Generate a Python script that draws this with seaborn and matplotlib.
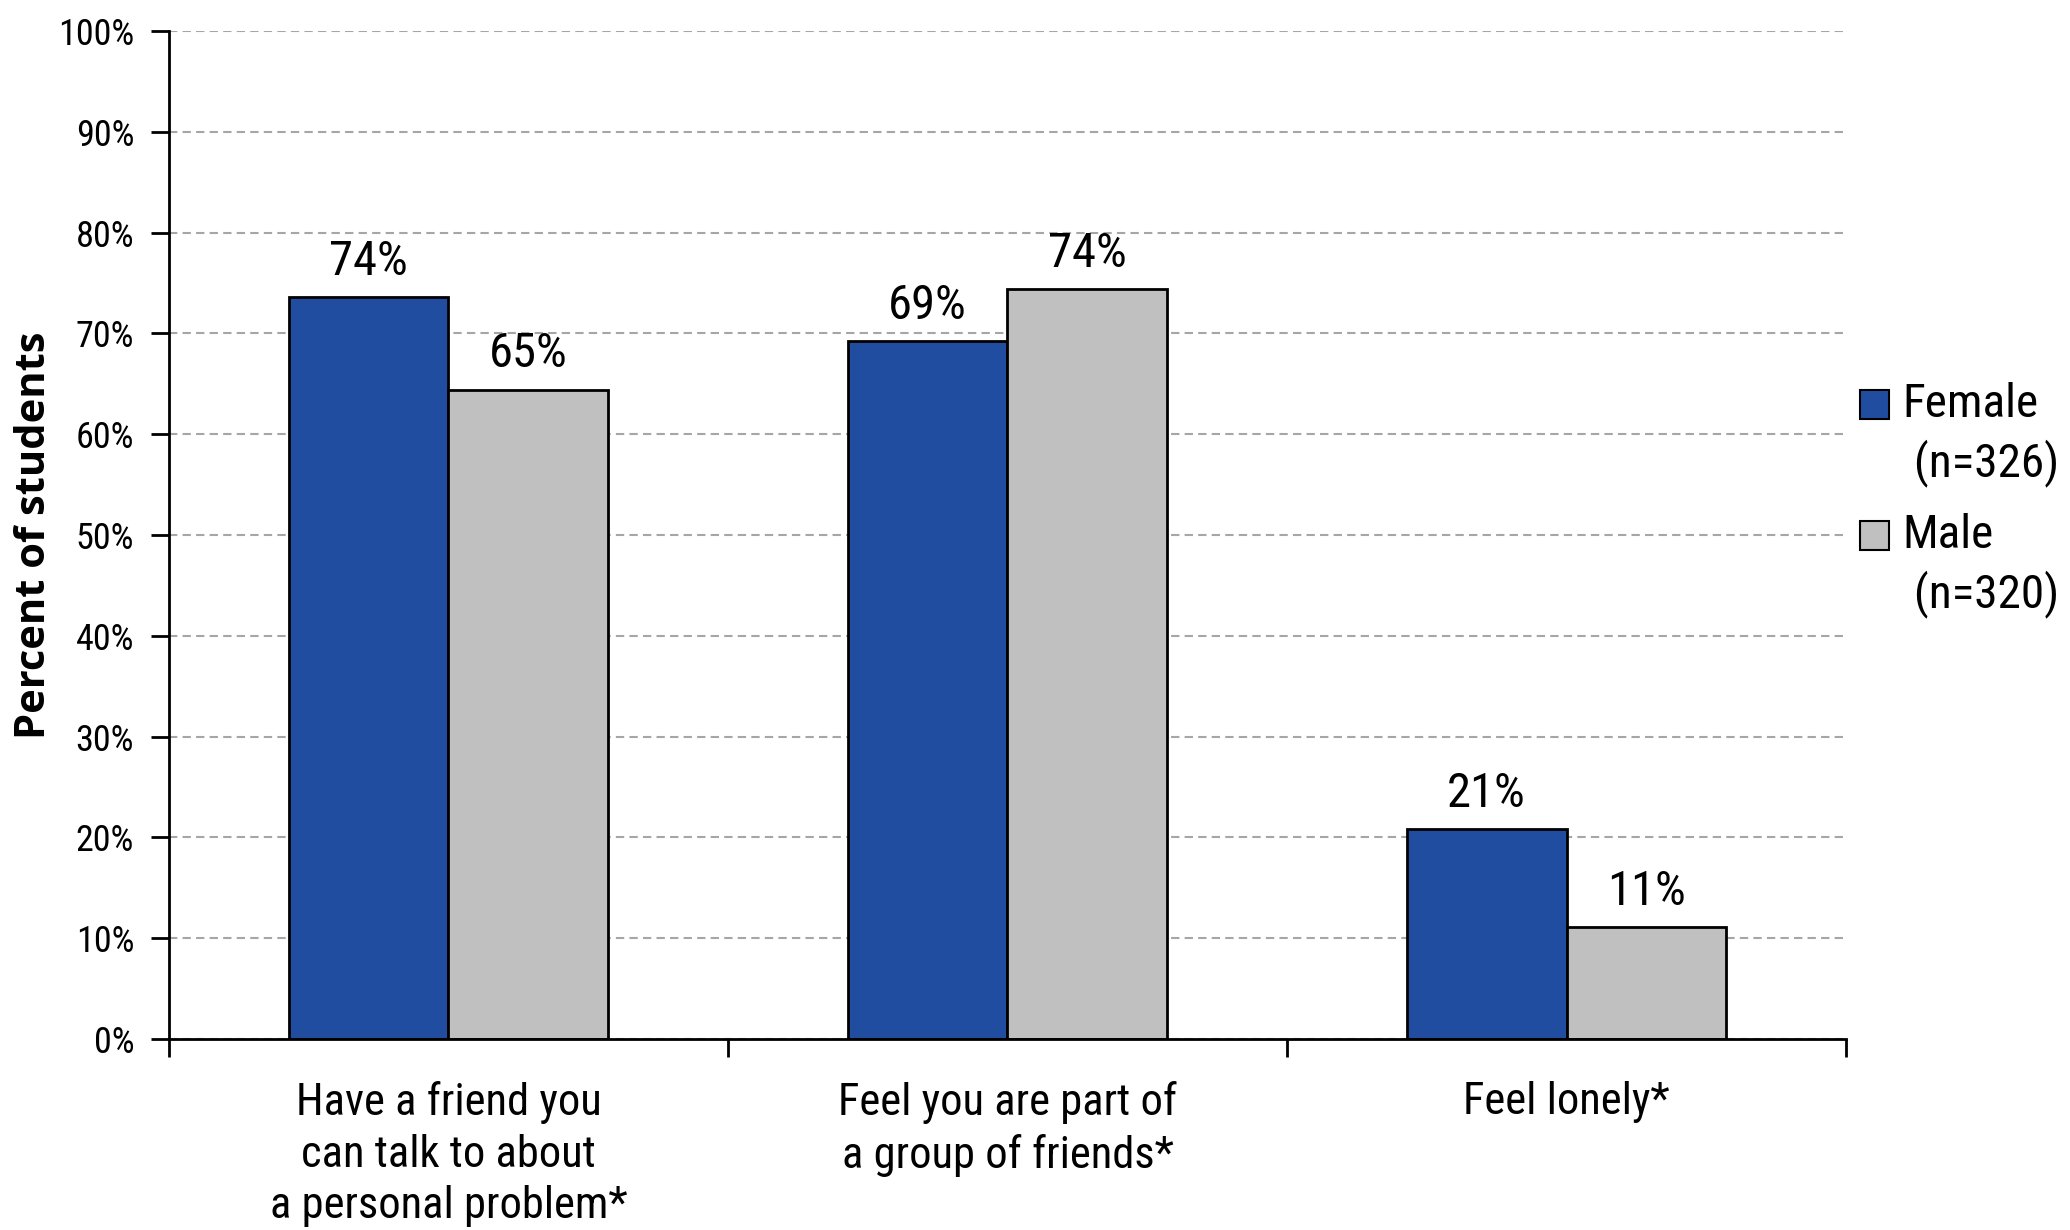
import matplotlib
matplotlib.use("Agg")
import matplotlib.pyplot as plt
import seaborn as sns
import pandas as pd
import numpy as np
from matplotlib.ticker import FixedLocator, PercentFormatter
from matplotlib.legend_handler import HandlerPatch
from matplotlib.patches import Rectangle

categories = ["Have a friend you\ncan talk to about\na personal problem*",
              "Feel you are part of\na group of friends*",
              "Feel lonely*"]
series_names = ["Female\n (n=326)", "Male\n (n=320)"]
female = [73.6, 69.2, 20.8]
male = [64.4, 74.4, 11.1]
female_labels = ["74%", "69%", "21%"]
male_labels = ["65%", "74%", "11%"]
colors = ["#214DA0", "#C0C0C0"]

df = pd.DataFrame({
    "category": categories * 2,
    "group": [series_names[0]] * 3 + [series_names[1]] * 3,
    "value": female + male,
})

sns.set_theme(style="white")
narrow = ["Roboto Condensed", "Archivo Narrow", "PT Sans Narrow", "Pragati Narrow",
          "Liberation Sans Narrow", "Roboto", "DejaVu Sans"]
plt.rcParams['font.family'] = narrow

fig = plt.figure(figsize=(20.7, 12.3), dpi=100)
ax = fig.add_axes([0.0816, 0.1553, 0.8102, 0.8195])

sns.barplot(data=df, x="category", y="value", hue="group", palette=colors,
            width=0.572, edgecolor="black", linewidth=2, saturation=1, ax=ax)

ax.set_ylim(0, 100)
ax.set_xlim(-0.5, 2.5)
ax.yaxis.set_major_locator(FixedLocator(np.arange(0, 101, 10)))
ax.yaxis.set_major_formatter(PercentFormatter(decimals=0))
ax.grid(axis="y", color="#A6A6A6", linestyle=(0, (4, 2.5)), linewidth=1.5)
ax.set_axisbelow(True)

for s in ["top", "right"]:
    ax.spines[s].set_visible(False)
for s in ["left", "bottom"]:
    ax.spines[s].set_color("black")
    ax.spines[s].set_linewidth(2)

ax.tick_params(axis="y", which="major", length=13, width=2, color="black",
               direction="out", left=True, labelsize=26, pad=12, labelcolor="black")
ax.tick_params(axis="x", which="major", length=0, labelsize=32, pad=30, labelcolor="black")
ax.xaxis.set_minor_locator(FixedLocator([-0.5, 0.5, 1.5, 2.5]))
ax.tick_params(axis="x", which="minor", length=13, width=2, color="black",
               direction="out", bottom=True)
ax.set_xticks(range(len(categories)), labels=categories, linespacing=1.3)

ax.set_xlabel("")
ax.set_ylabel("Percent of students", fontsize=30, fontweight="bold", color="black",
              family=["Open Sans", "DejaVu Sans"], labelpad=2)

for cont, labs in zip(ax.containers, [female_labels, male_labels]):
    ax.bar_label(cont, labels=labs, padding=9, fontsize=35, color="black")


def top_square(legend, orig_handle, xdescent, ydescent, width, height, fontsize):
    s = 0.62 * fontsize
    return Rectangle((-xdescent, -ydescent + 0.66 * fontsize), s, s)


handles, labels = ax.get_legend_handles_labels()
leg = ax.legend(handles, labels, loc="center left", bbox_to_anchor=(1.0, 0.535),
                frameon=False, fontsize=34, handlelength=0.62, handleheight=0.62,
                handletextpad=0.28, labelspacing=0.55, borderaxespad=0.1, borderpad=0.2,
                labelcolor="black",
                handler_map={h: HandlerPatch(patch_func=top_square) for h in handles})
for t in leg.get_texts():
    t.set_linespacing(1.35)
for h in leg.legend_handles:
    h.set_edgecolor("black")
    h.set_linewidth(1.5)

fig.savefig("out.png", dpi=100)
